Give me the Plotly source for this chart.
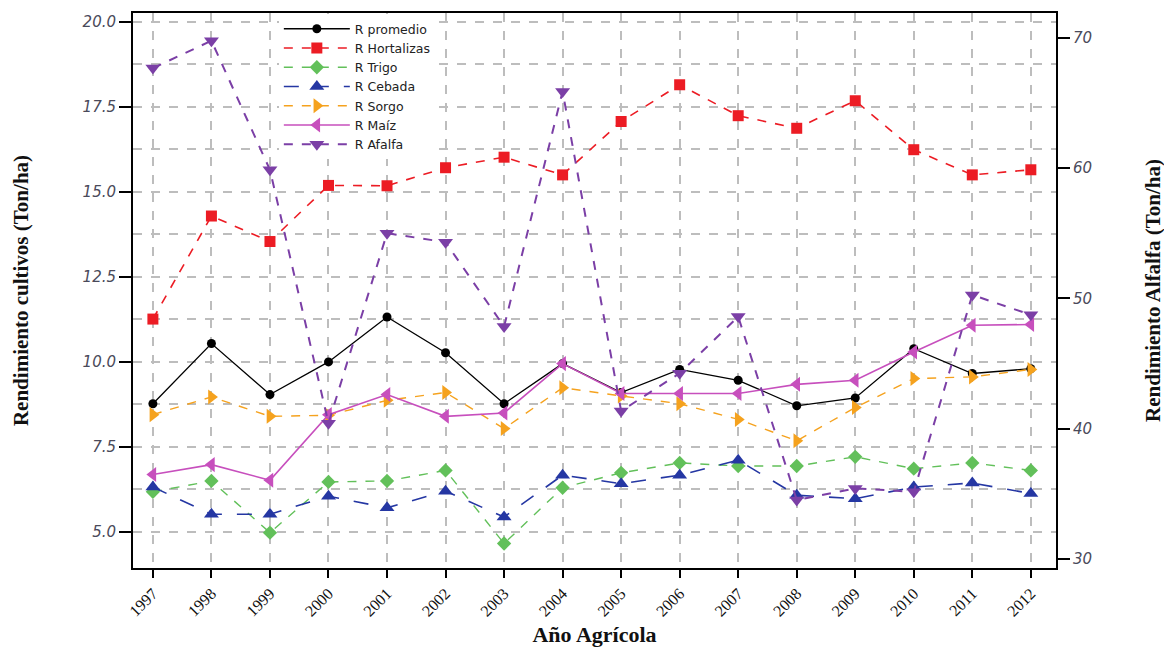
import plotly.graph_objects as go

# años agrícolas
years = list(range(1997, 2013))

# rendimientos (Ton/ha)
r_promedio = [8.77, 10.54, 9.04, 10.0, 11.32, 10.27, 8.77, 9.95, 9.1, 9.78, 9.46, 8.71, 8.94, 10.39, 9.66, 9.8]
r_hortalizas = [11.26, 14.29, 13.54, 15.19, 15.18, 15.71, 16.02, 15.5, 17.07, 18.15, 17.24, 16.87, 17.68, 16.24, 15.5, 15.65]
r_trigo = [6.18, 6.5, 4.98, 6.47, 6.5, 6.81, 4.66, 6.3, 6.74, 7.03, 6.94, 6.94, 7.21, 6.86, 7.03, 6.81]
r_cebada = [6.32, 5.52, 5.52, 6.05, 5.71, 6.2, 5.44, 6.67, 6.42, 6.67, 7.11, 6.08, 5.98, 6.32, 6.44, 6.13]
r_sorgo = [8.45, 8.97, 8.4, 8.43, 8.87, 9.1, 8.04, 9.24, 9.0, 8.77, 8.31, 7.68, 8.66, 9.51, 9.56, 9.78]
r_maiz = [6.69, 6.98, 6.52, 8.45, 9.04, 8.4, 8.5, 9.95, 9.07, 9.07, 9.07, 9.34, 9.46, 10.29, 11.08, 11.1]
# alfalfa va en el eje derecho
r_afalfa = [67.67, 69.77, 59.86, 40.41, 55.0, 54.31, 47.83, 65.88, 41.35, 44.25, 48.6, 34.52, 35.41, 35.15, 50.26, 48.73]

left_ticks = [5.0, 7.5, 10.0, 12.5, 15.0, 17.5, 20.0]
right_ticks = [30, 40, 50, 60, 70]

fig = go.Figure()

series = [
    ("R promedio", r_promedio, "#000000", "solid", "circle", 9, 1.3, "y"),
    ("R Hortalizas", r_hortalizas, "#ec1c24", "dash", "square", 11, 1.6, "y"),
    ("R Trigo", r_trigo, "#62c05a", "dash", "diamond", 11, 1.4, "y"),
    ("R Cebada", r_cebada, "#2537a3", "longdash", "triangle-up", 13, 1.6, "y"),
    ("R Sorgo", r_sorgo, "#f5a21e", "dash", "triangle-right", 13, 1.4, "y"),
    ("R Maíz", r_maiz, "#c74fbd", "solid", "triangle-left", 13, 1.6, "y"),
    ("R Afalfa", r_afalfa, "#7b3fa6", "dash", "triangle-down", 13, 2.0, "y2"),
]

for name, vals, col, dash, sym, size, w, ax in series:
    fig.add_trace(go.Scatter(x=years, y=vals, name=name, yaxis=ax, mode="lines+markers",
                             line=dict(color=col, width=w, dash=dash),
                             marker=dict(symbol=sym, size=size, color=col)))

grid = dict(showgrid=True, gridcolor="#bdbdbd", gridwidth=1.5, griddash="dash")

# la pagina deja 8px de margen en el body, por eso 1164x641
fig.update_layout(
    width=1164, height=641,
    margin=dict(l=125, r=116, t=5, b=81),
    plot_bgcolor="white", paper_bgcolor="white",
    showlegend=True,
    legend=dict(x=0.158, y=0.998, xanchor="left", yanchor="top",
                bgcolor="white", borderwidth=0, itemwidth=66,
                font=dict(family="DejaVu Sans", size=12.5, color="#222222"),
                tracegroupgap=0),
    xaxis=dict(range=[1996.66, 2012.43], tickmode="array", tickvals=years,
               ticktext=[str(y) for y in years], tickangle=-45, automargin=False,
               tickfont=dict(family="Liberation Serif", size=16, color="#111111"),
               ticks="outside", ticklen=8, tickcolor="black", tickwidth=1.5,
               showline=True, linecolor="black", linewidth=2, mirror=True,
               zeroline=False,
               title=dict(text="<b>Año Agrícola</b>", standoff=8,
                          font=dict(family="Liberation Serif", size=22, color="#111111")),
               **grid),
    yaxis=dict(range=[3.94, 20.26], tickmode="array", tickvals=left_ticks,
               ticktext=["%.1f" % t for t in left_ticks], automargin=False,
               tickfont=dict(family="DejaVu Sans", size=15, color="#4a4a5a", style="italic"),
               ticks="outside", ticklen=12, tickcolor="black", tickwidth=1.5,
               showline=True, linecolor="black", linewidth=2, zeroline=False,
               minor=dict(dtick=1.25, tick0=0, showgrid=True, gridcolor="#bdbdbd",
                          gridwidth=1.5, griddash="dash"),
               title=dict(text="<b>Rendimiento cultivos (Ton/ha)</b>", standoff=48,
                          font=dict(family="Liberation Serif", size=21, color="#111111")),
               **grid),
    yaxis2=dict(range=[29.3, 71.9], overlaying="y", side="right", automargin=False,
                tickmode="array", tickvals=right_ticks,
                tickfont=dict(family="DejaVu Sans", size=15, color="#4a4a5a", style="italic"),
                ticks="outside", ticklen=12, tickcolor="black", tickwidth=1.5,
                showline=True, linecolor="black", linewidth=2, showgrid=False, zeroline=False,
                title=dict(text="<b>Rendimiento Alfalfa (Ton/ha)</b>", standoff=54,
                           font=dict(family="Liberation Serif", size=21, color="#111111"))),
)

fig.write_html("out.html")
